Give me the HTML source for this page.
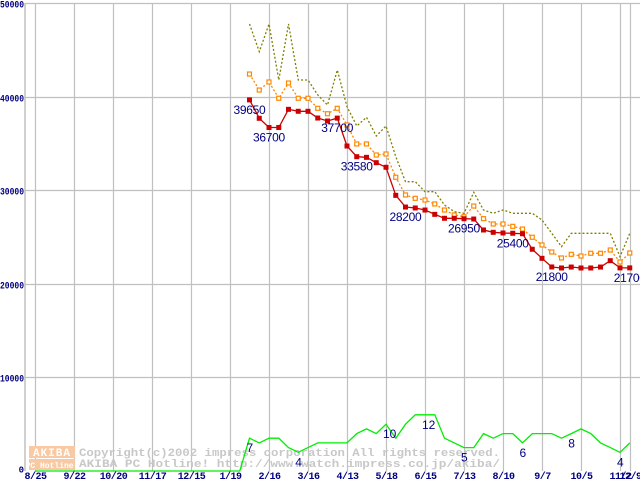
<!DOCTYPE html>
<html><head><meta charset="utf-8"><style>
html,body{margin:0;padding:0;background:#fff;}
svg{display:block;font-family:"Liberation Mono","DejaVu Sans Mono",monospace;}
</style></head><body>
<svg id="chart" width="640" height="480" viewBox="0 0 640 480" xmlns="http://www.w3.org/2000/svg">
<g id="grid"></g>
<g id="watermark">
  <rect x="29" y="446" width="46" height="12" fill="#f9c9a4"/>
  <text x="52" y="456" font-size="11" font-weight="bold" fill="#fff" text-anchor="middle" letter-spacing="1">AKIBA</text>
  <rect x="29" y="459" width="46" height="11" fill="#f9c9a4"/>
  <text x="52" y="468" font-size="8" font-weight="bold" fill="#fff" text-anchor="middle">PC Hotline!</text>
  <text x="79" y="456" font-size="11.3" font-weight="bold" fill="#c8c8c8" textLength="421" lengthAdjust="spacingAndGlyphs">Copyright(c)2002 impress corporation All rights reserved.</text>
  <text x="79" y="467" font-size="11.3" font-weight="bold" fill="#c8c8c8" textLength="421" lengthAdjust="spacingAndGlyphs">AKIBA PC Hotline!  http://www.watch.impress.co.jp/akiba/</text>
</g>
<g id="series"></g>
<g id="labels"></g>
</svg>
<script>
const xTickLabels = ["8/25","9/22","10/20","11/17","12/15","1/19","2/16","3/16","4/13","5/18","6/15","7/13","8/10","9/7","10/5","11/2","12/9"];
const xTickIdx = [0,4,8,12,16,20,24,28,32,36,40,44,48,52,56,60,61];
const yTicks = [0,10000,20000,30000,40000,50000];
const startIdx = 22;
const redValues = [39650,37680,36700,36700,38640,38430,38430,37710,37390,37700,34720,33580,33510,32940,32450,29450,28200,28100,27880,27420,27000,27000,26950,26920,25750,25500,25430,25400,25350,23690,22720,21800,21690,21790,21690,21690,21790,22470,21700,21700];
const orangeValues = [42410,40700,41560,39820,41450,39820,39820,38750,38170,38750,36970,34940,34940,33760,33870,31380,29490,29130,28950,28530,27880,27350,27170,28310,26960,26390,26390,26140,25850,24970,24150,23400,22760,23150,22970,23260,23260,23610,22330,23290];
const oliveValues = [47760,44800,47760,41770,47760,41770,41770,40170,39100,42840,38920,36860,37790,35790,36860,33580,30910,30910,29840,29840,28420,27700,27530,29780,27880,27530,27880,27530,27530,27530,26820,25400,23960,25400,25400,25400,25400,25400,22900,25400];
const countValues = [7,6,7,7,5,4,5,6,6,6,6,8,9,8,10,7,10,12,12,12,7,6,5,5,8,7,8,8,6,8,8,8,7,8,9,8,6,5,4,6];
const priceLabelIdx = [22,24,31,33,38,44,49,53,61];
const countLabelIdx = [22,27,36,40,44,50,55,60];

const NS = "http://www.w3.org/2000/svg";
const X = i => 35 + i * 9.75;
const Y = v => 471 - v * 0.00936;
const YC = c => Y(c * 500);
function mk(tag, attrs, parent){ const e=document.createElementNS(NS,tag); for(const k in attrs) e.setAttribute(k,attrs[k]); parent.appendChild(e); return e; }
const grid=document.getElementById('grid'), ser=document.getElementById('series'), lab=document.getElementById('labels');

mk('line',{x1:25,y1:3,x2:25,y2:471,stroke:'#c0c0c0','stroke-width':1.5},grid);
yTicks.forEach(v=>{
  const y=Math.round(Y(v))+0.5;
  if(v>0){const l=mk('line',{x1:25,y1:y,x2:640,y2:y,stroke:'#c0c0c0','stroke-width':1.2},grid);
  
  }
  let t;
  if(v===0){
    t=mk('text',{x:24,y:y+1,'font-size':9,'font-weight':'bold',fill:'#000080','text-anchor':'end'},lab);
  } else {
    t=mk('text',{x:0,y:y+4,'font-size':10,'font-weight':'bold',fill:'#000080',textLength:24,lengthAdjust:'spacingAndGlyphs'},lab);
  }
  t.textContent = v===0 ? '0' : String(v);
  
  
});
xTickIdx.forEach((ix,k)=>{
  const x=Math.round(X(ix))+0.5;
  const l=mk('line',{x1:x,y1:3,x2:x,y2:471,stroke:'#c0c0c0','stroke-width':1.2},grid);
  
  
  const t=mk('text',{x:x,y:479,'font-size':10,'font-weight':'bold',fill:'#000080','text-anchor':'middle','letter-spacing':'-0.5'},lab);
  t.textContent=xTickLabels[k];
  
  
});

function pts(vals,fy){ return vals.map((v,i)=>X(startIdx+i).toFixed(1)+','+fy(v).toFixed(1)).join(' '); }

let cp=[X(0)+','+Y(0)];
cp.push(X(startIdx-1)+','+Y(0));
cp=cp.concat(countValues.map((c,i)=>X(startIdx+i).toFixed(1)+','+YC(c).toFixed(1)));
const g=mk('polyline',{points:cp.join(' '),fill:'none',stroke:'#00ee00','stroke-width':1.3},ser);



const ol=mk('polyline',{points:pts(oliveValues,Y),fill:'none',stroke:'#808000','stroke-width':1.3,'stroke-dasharray':'2,2'},ser);



const or=mk('polyline',{points:pts(orangeValues,Y),fill:'none',stroke:'#ff8800','stroke-width':1.3,'stroke-dasharray':'2,2'},ser);


orangeValues.forEach((v,i)=>{
  const m=mk('rect',{x:X(startIdx+i)-2,y:Y(v)-2,width:4,height:4,fill:'#fff',stroke:'#ff8800','stroke-width':1.2},ser);
  
  
});

const rd=mk('polyline',{points:pts(redValues,Y),fill:'none',stroke:'#cc0000','stroke-width':1.3},ser);


redValues.forEach((v,i)=>{
  const m=mk('rect',{x:X(startIdx+i)-2.5,y:Y(v)-2.5,width:5,height:5,fill:'#cc0000'},ser);
  
  
});

priceLabelIdx.forEach(ix=>{
  const v=redValues[ix-startIdx];
  const t=mk('text',{x:X(ix)-16,y:Y(v)+14,'font-size':12,fill:'#000080','font-family':'Liberation Sans, sans-serif','letter-spacing':'-0.3'},lab);
  t.textContent=String(v);
  
  
});
countLabelIdx.forEach(ix=>{
  const c=countValues[ix-startIdx];
  const t=mk('text',{x:X(ix)-3,y:YC(c)+14,'font-size':12,fill:'#000080','font-family':'Liberation Sans, sans-serif'},lab);
  t.textContent=String(c);
  
  
});
</script>
</body></html>
